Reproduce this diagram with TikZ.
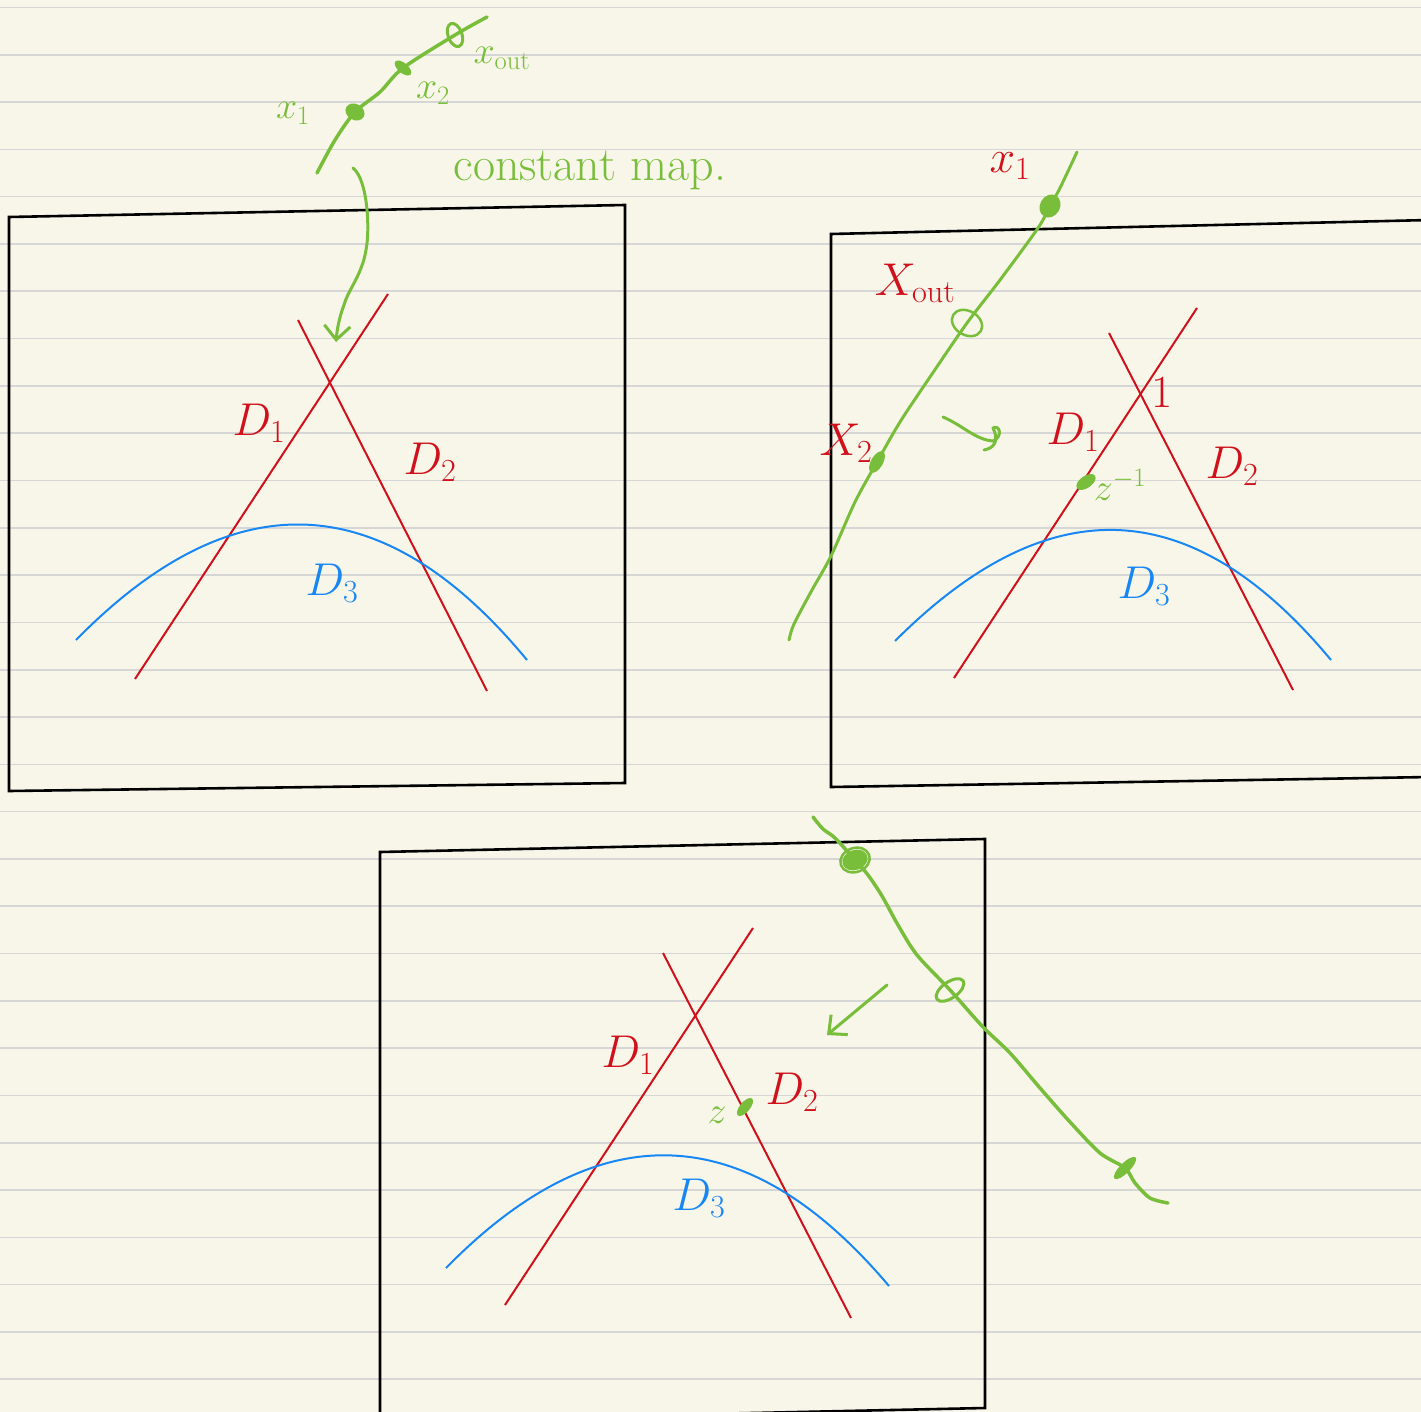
\RequirePackage{fix-cm}
\documentclass[tikz,border=0pt]{standalone}
\usetikzlibrary{arrows.meta}
\definecolor{paper}{HTML}{F8F6E9}
\definecolor{ruling}{HTML}{D6D6D6}
\definecolor{pen}{HTML}{78BE3A}
\definecolor{divred}{HTML}{D0101A}
\definecolor{divblue}{HTML}{1787F5}

\begin{document}
\begin{tikzpicture}[x=1pt,y=-1pt,
  box/.style={line width=2.6pt,black},
  divisor/.style={divred,line width=2pt},
  conic/.style={divblue,line width=2pt},
  strand/.style={pen,line width=3.5pt,line cap=round,line join=round},
  tag/.style={font=\fontsize{46}{50}\selectfont},
  smalltag/.style={font=\fontsize{38}{42}\selectfont},
  handarrow/.style={strand,line width=3pt,-{Straight Barb[length=14pt,width=26pt]}}]
  \useasboundingbox (0,0) rectangle (1421,1412);
  \clip (0,0) rectangle (1421,1412);
  \fill[paper] (0,0) rectangle (1421,1412);
  \foreach \k in {0,...,29}
    \draw[ruling,line width=1.6pt] (0,{7.5+47.3*\k}) -- (1421,{7.5+47.3*\k});

  % first panel
  \draw[box] (9,217) -- (625,205) -- (625,783) -- (9,791) -- cycle;
  \coordinate (A1) at (135,679);
  \coordinate (B1) at (388,294);
  \coordinate (A2) at (298,320);
  \coordinate (B2) at (487,691);
  \draw[divisor] (A1) -- (B1);
  \draw[divisor] (A2) -- (B2);
  \draw[conic] (76,640) .. controls (235,478) and (385,488) .. (527,660);
  \node[tag,divred] (d1a) at (259,423) {$D_1$};
  \node[tag,divred] (d2a) at (430,462) {$D_2$};
  \node[tag,divblue] (d3a) at (332,583) {$D_3$};

  % curve mapped to a point
  \coordinate (xa) at (355,112);
  \coordinate (xb) at (403,68);
  \coordinate (xo) at (455,35);
  \draw[strand] plot[smooth] coordinates {(317,173) (335,140) (xa) (380,92) (xb) (xo) (487,17)};
  \fill[pen,rotate around={60:(xa)}] (xa) ellipse (8 and 10);
  \fill[pen,rotate around={50:(xb)}] (xb) ellipse (5 and 10);
  \draw[pen,line width=3pt,rotate around={20:(xo)}] (xo) ellipse (7 and 12);
  \node[smalltag,pen] (lxa) at (293,113) {$x_1$};
  \node[smalltag,pen] (lxb) at (433,93) {$x_2$};
  \node[smalltag,pen] (lxo) at (502,58) {$x_{\mathrm{out}}$};
  \node[font=\fontsize{48}{52}\selectfont,pen] (cmap) at (590,170) {constant map.};
  \draw[handarrow] (353,168) .. controls (368,180) and (370,230) .. (366,250)
    .. controls (362,275) and (348,290) .. (344,305)
    .. controls (339,318) and (337,330) .. (336,342);

  % second panel
  \draw[box] (1430,220) -- (831,234) -- (831,787) -- (1430,777);
  \coordinate (C1) at (954,678);
  \coordinate (E1) at (1197,308);
  \coordinate (C2) at (1109,333);
  \coordinate (E2) at (1293,690);
  \draw[divisor] (C1) -- (E1);
  \draw[divisor] (C2) -- (E2);
  \draw[conic] (895,641) .. controls (1050,486) and (1193,494) .. (1331,660);
  \node[tag,divred] (d1b) at (1073,432) {$D_1$};
  \node[tag,divred] (d2b) at (1232,466) {$D_2$};
  \node[tag,divblue] (d3b) at (1144,586) {$D_3$};
  \node[tag,divred] (one) at (1162,392) {1};
  \coordinate (zi) at (1086,482);
  \fill[pen,rotate around={-55:(zi)}] (zi) ellipse (6 and 11);
  \node[smalltag,pen] (lzi) at (1120,485) {$z^{-1}$};

  \coordinate (ya) at (1050,206);
  \coordinate (yo) at (967,323);
  \coordinate (yb) at (877,462);
  \draw[strand,line width=3pt] plot[smooth] coordinates {(789,640) (794,624) (812,590) (831,556) (855,502) (yb) (900,422) (930,377) (yo) (1000,280) (1038,228) (ya) (1060,188) (1077,152)};
  \fill[pen,rotate around={-30:(ya)}] (ya) ellipse (10 and 12);
  \draw[pen,line width=2.5pt,rotate around={-30:(yo)}] (yo) ellipse (16 and 12);
  \fill[pen,rotate around={-30:(yb)}] (yb) ellipse (6 and 12);
  \node[tag,divred] (lya) at (1010,166) {$x_1$};
  \node[tag,divred] (lyo) at (915,283) {$X_{\mathrm{out}}$};
  \node[tag,divred] (lyb) at (846,443) {$X_2$};
  \draw[strand,line width=3pt] (943,417) .. controls (962,425) and (976,440) .. (993,441)
    .. controls (1003,437) and (1000,424) .. (993,428)
    .. controls (999,440) and (995,448) .. (984,450);

  % third panel
  \draw[box] (380,1421) -- (380,852) -- (985,839) -- (985,1408) -- (380,1421);
  \coordinate (F1) at (505,1305);
  \coordinate (G1) at (753,928);
  \coordinate (F2) at (663,953);
  \coordinate (G2) at (851,1318);
  \draw[divisor] (F1) -- (G1);
  \draw[divisor] (F2) -- (G2);
  \draw[conic] (446,1268) .. controls (600,1111) and (748,1119) .. (889,1286);
  \node[tag,divred] (d1c) at (628,1055) {$D_1$};
  \node[tag,divred] (d2c) at (792,1092) {$D_2$};
  \node[tag,divblue] (d3c) at (699,1198) {$D_3$};
  \coordinate (zz) at (745,1107);
  \fill[pen,rotate around={50:(zz)}] (zz) ellipse (11 and 5);
  \node[smalltag,pen] (lzz) at (717,1115) {$z$};

  \coordinate (wa) at (855,860);
  \coordinate (wo) at (950,990);
  \coordinate (wb) at (1125,1168);
  \draw[strand] plot[smooth] coordinates {(813,817) (823,829) (835,838) (wa) (868,875) (882,896) (898,925) (917,955) (wo) (983,1027) (1010,1053) (1040,1088) (1070,1122) (1100,1153) (wb) (1135,1183) (1150,1198) (1168,1203)};
  \fill[pen,rotate around={20:(wa)}] (wa) ellipse (13 and 10);
  \draw[pen,line width=2.5pt,rotate around={20:(wa)}] (wa) ellipse (15 and 12);
  \draw[pen,line width=3pt,rotate around={35:(wo)}] (wo) ellipse (16 and 8);
  \fill[pen,rotate around={45:(wb)}] (wb) ellipse (15 and 5);
  \coordinate (ta) at (887,985);
  \coordinate (tb) at (827,1035);
  \draw[handarrow] (ta) -- (tb);
\end{tikzpicture}
\end{document}
